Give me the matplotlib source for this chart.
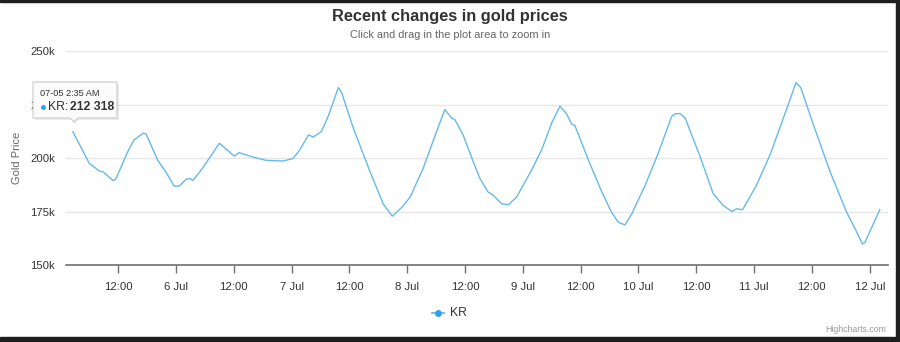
import numpy as np
import pandas as pd
import matplotlib
matplotlib.use('Agg')
import matplotlib.pyplot as plt
import matplotlib.dates as mdates
from matplotlib.patches import Polygon, Rectangle
from matplotlib.ticker import FuncFormatter

plt.rcParams['font.family'] = ['Liberation Sans', 'DejaVu Sans']

# hours since 5 Jul 00:00, and gold price (KR)
hours = [2.58, 6.0, 8.1, 8.9, 10.9, 11.5, 14.0, 15.3, 17.2, 17.8, 20.2, 21.9, 23.6,
         24.7, 26.1, 26.9, 27.5, 29.2, 30.9, 33.0, 34.4, 36.1, 37.1, 40.2, 42.7, 44.8,
         46.3, 48.3, 49.7, 51.5, 52.5, 54.2, 55.6, 57.7, 58.4, 60.8, 64.3, 67.0, 68.9,
         70.9, 72.6, 75.3, 78.1, 79.8, 81.2, 81.9, 83.6, 85.7, 87.1, 88.8, 89.9, 91.6,
         93.0, 94.7, 97.8, 99.9, 102.0, 103.7, 105.1, 106.1, 106.8, 109.6, 112.4, 114.4,
         115.8, 117.2, 118.6, 121.4, 124.1, 126.9, 127.6, 128.6, 129.7, 132.8, 135.5,
         137.6, 139.4, 140.4, 141.6, 144.5, 147.3, 150.1, 152.7, 153.7, 156.3, 159.8,
         163.2, 165.0, 166.5, 167.0, 170.1]
prices = [212318, 197500, 193900, 193500, 189500, 190100, 203000, 208500, 211600, 211200,
          199000, 193500, 186900, 186900, 190100, 190400, 189500, 194300, 199800, 206900,
          204200, 200900, 202500, 200300, 198900, 198700, 198600, 199800, 203800, 210800,
          209800, 212400, 219500, 232900, 230500, 214000, 193500, 178600, 172800, 177000,
          181700, 195100, 212400, 222600, 218700, 217900, 210800, 198300, 190400, 184100,
          182500, 178600, 178200, 181700, 194300, 203800, 216400, 224200, 220600, 215900,
          215200, 199100, 184100, 174700, 170000, 168700, 173900, 187300, 202200, 219500,
          220600, 220800, 218700, 200600, 183400, 177800, 175000, 176300, 175800, 187300,
          201400, 218700, 235200, 232900, 215600, 193500, 174700, 166800, 159800, 160500,
          175900]
series_name = 'KR'
yticks = [150000, 175000, 200000, 225000, 250000]

base = pd.Timestamp('2023-07-05 00:00')
times = base + pd.to_timedelta(hours, unit='h')

W, H = 900, 342
fig = plt.figure(figsize=(9, 3.42), dpi=100)
fig.patch.set_facecolor('white')

ax = fig.add_axes([66 / W, 1 - 265 / H, (888 - 66) / W, (265 - 51) / H])
line_color = '#66b9ec'
ax.plot(times, prices, color=line_color, lw=1.0, zorder=3)

ax.set_ylim(150000, 250000)
ax.set_yticks(yticks)
ax.yaxis.set_major_formatter(FuncFormatter(lambda v, p: f'{int(v / 1000)}k'))
ax.set_xlim(base + pd.Timedelta(hours=1.17), base + pd.Timedelta(hours=171.8))

ax.xaxis.set_major_locator(mdates.HourLocator(byhour=[0, 12]))
def xfmt(v, p):
    d = mdates.num2date(v)
    if d.hour == 0:
        return f'{d.day} Jul'
    return d.strftime('%H:%M')
ax.xaxis.set_major_formatter(FuncFormatter(xfmt))

ax.grid(axis='y', color='#e6e6e6', lw=1)
ax.set_axisbelow(True)
for s in ['top', 'right', 'left']:
    ax.spines[s].set_visible(False)
ax.spines['bottom'].set_color('#707070')
ax.spines['bottom'].set_linewidth(1.2)
ax.tick_params(axis='y', length=0, labelsize=8.2, labelcolor='#333333', pad=8)
ax.tick_params(axis='x', length=6, width=1, color='#707070', labelsize=8.2,
               labelcolor='#333333', pad=6)
ax.set_ylabel('Gold Price', fontsize=8, color='#666666', labelpad=6)

fig.text(0.5, 1 - 17 / H, 'Recent changes in gold prices', ha='center', va='center',
         fontsize=11.8, fontweight='bold', color='#333333')
fig.text(0.5, 1 - 35 / H, 'Click and drag in the plot area to zoom in', ha='center',
         va='center', fontsize=7.9, color='#666666')

# legend
fig.add_artist(plt.Line2D([432 / W, 444 / W], [1 - 313 / H] * 2, color=line_color, lw=1.3))
fig.add_artist(plt.Line2D([438 / W], [1 - 313 / H], marker='o', ms=5, color='#2ea1e8',
                          markeredgewidth=0))
fig.text(450 / W, 1 - 313 / H, series_name, ha='left', va='center', fontsize=8.8,
         color='#333333')
fig.text(886 / W, 1 - 330 / H, 'Highcharts.com', ha='right', va='center', fontsize=6.3,
         color='#999999')

# tooltip
def px(x, y):
    return (x / W, 1 - y / H)

shadow = Polygon([px(35, 84), px(119, 84), px(119, 120), px(78, 120), px(75, 124),
                  px(72, 120), px(35, 120)], closed=True, transform=fig.transFigure,
                 facecolor='#000000', alpha=0.08, edgecolor='none', zorder=9)
fig.add_artist(shadow)
tip = Polygon([px(33, 82), px(117, 82), px(117, 118), px(78, 118), px(74, 122),
               px(70, 118), px(33, 118)], closed=True, transform=fig.transFigure,
              facecolor='#fbfbfb', edgecolor='#cccccc', lw=0.8, zorder=10)
fig.add_artist(tip)
fig.text(40 / W, 1 - 94 / H, '07-05 2:35 AM', ha='left', va='center', fontsize=6.6,
         color='#333333', zorder=11)
fig.add_artist(plt.Line2D([42.5 / W], [1 - 107 / H], marker='o', ms=3.5, color='#2ea1e8',
                          markeredgewidth=0, zorder=11))
fig.text(48 / W, 1 - 107 / H, f'{series_name}:', ha='left', va='center', fontsize=8.8,
         color='#333333', zorder=11)
fig.text(70 / W, 1 - 107 / H, f'{prices[0]:,}'.replace(',', ' '), ha='left', va='center',
         fontsize=8.8, fontweight='bold', color='#333333', zorder=11)

# screenshot border
fig.add_artist(Rectangle((0, 1 - 2 / H), 1, 2 / H, transform=fig.transFigure,
                         color='#1e1e1e', zorder=20))
fig.add_artist(Rectangle((896 / W, 0), 4 / W, 1, transform=fig.transFigure,
                         color='#1e1e1e', zorder=20))
fig.add_artist(Rectangle((0, 0), 1, 5 / H, transform=fig.transFigure,
                         color='#1e1e1e', zorder=20))

fig.savefig('out.png', dpi=100)
